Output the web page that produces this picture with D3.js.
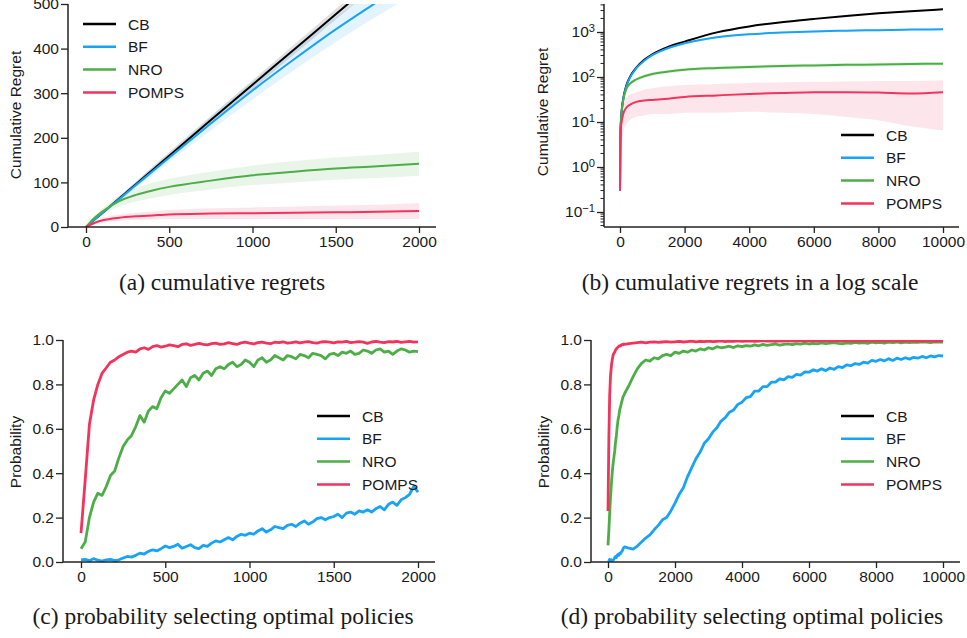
<!DOCTYPE html>
<html>
<head>
<meta charset="utf-8">
<script src="https://cdn.jsdelivr.net/npm/d3@7"></script>
<style>
  body { margin: 0; background: #fff; }
  text { font-family: "Liberation Sans", Arial, sans-serif; fill: #1a1a1a; }
  .caption { font-family: "Liberation Serif", "Times New Roman", serif; }
</style>
</head>
<body>
<svg id="fig" width="967" height="638"></svg>
<script>
// ---- data ----
const series = ["CB", "BF", "NRO", "POMPS"];
const colors = ["#000000", "#17a3f6", "#4cae46", "#f2335c"];

// (a) cumulative regret, mean and +/- band
const xA = [0, 50, 100, 200, 300, 400, 500, 750, 1000, 1250, 1500, 1750, 2000];
const cbA = [0, 16, 32, 64, 96, 128, 160, 240, 319, 398, 477, 556, 635];
const cbA_sd = [0, 2, 3, 5, 6, 7, 8, 9, 10, 11, 12, 13, 14];
const bfA = [0, 16, 32, 63, 94, 125, 156, 232, 306, 376, 443, 505, 565];
const bfA_sd = [0, 2, 3, 5, 7, 9, 10, 15, 20, 24, 28, 32, 36];
const nroA = [0, 20, 35, 58, 72, 82, 90, 104, 116, 124, 131, 136, 142];
const nroA_sd = [0, 4, 7, 12, 15, 17, 18, 20, 22, 24, 25, 26, 27];
const pompsA = [0, 9, 15, 21, 24, 26, 28, 30, 31, 32, 33, 34, 36];
const pompsA_sd = [0, 3, 5, 7, 8, 9, 10, 12, 13, 14, 15, 16, 18];

// (b) cumulative regret, log scale
const xB = [0, 10, 25, 50, 100, 200, 300, 500, 750, 1000, 1500, 2000, 3000, 4000, 5000, 6000, 7000, 8000, 9000, 10000];
const cbB = [0.3, 4, 9, 17, 33, 66, 98, 160, 240, 320, 470, 610, 980, 1330, 1650, 1950, 2280, 2600, 2900, 3200];
const bfB = [0.3, 4, 9, 17, 32, 63, 94, 155, 230, 305, 440, 560, 760, 890, 970, 1030, 1070, 1100, 1130, 1150];
const nroB = [0.3, 4, 9, 16, 30, 55, 70, 88, 104, 116, 132, 145, 158, 167, 175, 181, 186, 190, 194, 198];
const pompsB = [0.3, 3.5, 7, 10, 15, 21, 24, 28, 30, 31, 33, 36, 39, 42, 44, 46, 46, 45, 43, 46];
const pompsB_lo = [0.05, 0.5, 1.5, 3, 6, 9, 11, 13, 14, 15, 15, 16, 16, 17, 16, 15, 13, 11, 8, 6.5];
const pompsB_hi = [0.4, 8, 15, 20, 25, 35, 40, 45, 52, 56, 62, 66, 70, 74, 76, 78, 79, 81, 82, 85];

// (c) probability of selecting optimal policy, T = 2000 (every 25 steps)
const xC = d3.range(0, 2001, 25);
const pompsC = [0.13,0.37,0.62,0.73,0.80,0.85,0.875,0.90,0.91,0.925,
  0.935,0.945,0.95,0.945,0.96,0.965,0.958,0.97,0.975,0.968,
  0.972,0.978,0.975,0.97,0.98,0.983,0.976,0.98,0.985,0.98,
  0.978,0.984,0.986,0.98,0.983,0.988,0.984,0.98,0.987,0.99,
  0.986,0.983,0.988,0.99,0.986,0.984,0.99,0.988,0.992,0.986,
  0.988,0.992,0.987,0.99,0.993,0.988,0.986,0.991,0.993,0.99,
  0.987,0.992,0.99,0.994,0.988,0.99,0.993,0.99,0.985,0.991,
  0.994,0.99,0.988,0.993,0.991,0.994,0.989,0.992,0.994,0.99,
  0.992];
const nroC = [0.06,0.09,0.20,0.27,0.31,0.30,0.34,0.39,0.41,0.47,
  0.52,0.55,0.57,0.61,0.66,0.63,0.68,0.70,0.69,0.74,
  0.77,0.76,0.78,0.80,0.82,0.79,0.83,0.84,0.82,0.85,
  0.86,0.84,0.87,0.88,0.87,0.89,0.90,0.88,0.89,0.91,
  0.90,0.88,0.91,0.92,0.90,0.91,0.93,0.92,0.91,0.93,
  0.925,0.915,0.935,0.93,0.92,0.94,0.935,0.93,0.915,0.935,
  0.94,0.93,0.945,0.94,0.95,0.935,0.94,0.955,0.95,0.94,
  0.955,0.96,0.945,0.95,0.935,0.95,0.96,0.955,0.945,0.95,
  0.948];
const bfC = [0.01,0.012,0.006,0.015,0.008,0.004,0.01,0.012,0.006,0.01,
  0.018,0.025,0.022,0.03,0.04,0.036,0.048,0.055,0.05,0.06,
  0.072,0.065,0.07,0.08,0.062,0.07,0.078,0.065,0.06,0.075,
  0.07,0.085,0.095,0.09,0.10,0.11,0.10,0.115,0.125,0.12,
  0.13,0.125,0.14,0.15,0.135,0.145,0.16,0.155,0.15,0.165,
  0.17,0.16,0.175,0.185,0.17,0.18,0.195,0.20,0.19,0.20,
  0.205,0.215,0.20,0.22,0.225,0.215,0.23,0.225,0.235,0.225,
  0.24,0.25,0.235,0.26,0.27,0.255,0.28,0.29,0.305,0.34,
  0.315];

// (d) probability of selecting optimal policy, T = 10000
const xD = d3.range(0, 500, 25).concat(d3.range(500, 10001, 125));
const pompsD = [0.23,0.55,0.75,0.84,0.88,0.91,0.93,0.94,0.945,0.955,
  0.96,0.965,0.968,0.972,0.975,0.973,0.978,0.98,0.978,0.982,
  0.98,0.984,0.986,0.988,0.99,0.987,0.99,0.992,0.989,0.991,
  0.993,0.99,0.992,0.994,0.991,0.993,0.995,0.992,0.994,0.993,
  0.995,0.993,0.994,0.996,0.993,0.995,0.994,0.996,0.994,0.995,
  0.996,0.994,0.995,0.997,0.995,0.996,0.994,0.996,0.995,0.997,
  0.995,0.996,0.997,0.995,0.996,0.997,0.995,0.996,0.997,0.995,
  0.996,0.997,0.995,0.997,0.996,0.995,0.997,0.996,0.997,0.995,
  0.997,0.996,0.995,0.997,0.996,0.997,0.995,0.996,0.997,0.996,
  0.995,0.997,0.996,0.997,0.995,0.996,0.996];
const nroD = [0.075,0.14,0.22,0.29,0.35,0.40,0.44,0.47,0.50,0.54,
  0.57,0.61,0.64,0.66,0.685,0.70,0.715,0.73,0.745,0.75,
  0.76,0.795,0.835,0.87,0.895,0.91,0.905,0.92,0.915,0.93,
  0.935,0.93,0.945,0.94,0.95,0.945,0.955,0.95,0.96,0.955,
  0.965,0.96,0.97,0.965,0.968,0.972,0.966,0.974,0.97,0.975,
  0.972,0.978,0.974,0.98,0.976,0.979,0.982,0.977,0.98,0.983,
  0.979,0.984,0.981,0.986,0.982,0.985,0.983,0.987,0.984,0.986,
  0.988,0.985,0.983,0.987,0.985,0.989,0.986,0.988,0.985,0.99,
  0.987,0.989,0.986,0.99,0.988,0.991,0.987,0.99,0.988,0.991,
  0.989,0.992,0.99,0.988,0.992,0.99,0.991];
const bfD = [0.01,0.008,0.012,0.006,0.01,0.005,0.008,0.012,0.02,0.025,
  0.02,0.03,0.035,0.03,0.04,0.038,0.045,0.05,0.06,0.065,
  0.068,0.062,0.058,0.072,0.09,0.108,0.122,0.145,0.165,0.19,
  0.2,0.23,0.265,0.305,0.335,0.385,0.425,0.465,0.495,0.535,
  0.555,0.585,0.605,0.635,0.65,0.675,0.685,0.71,0.72,0.74,
  0.745,0.77,0.77,0.79,0.79,0.81,0.81,0.825,0.82,0.835,
  0.832,0.845,0.842,0.856,0.855,0.866,0.86,0.87,0.862,0.874,
  0.868,0.88,0.876,0.888,0.884,0.894,0.89,0.9,0.896,0.908,
  0.904,0.912,0.906,0.916,0.908,0.918,0.912,0.92,0.914,0.922,
  0.918,0.926,0.92,0.928,0.924,0.93,0.928];

const captions = ["(a) cumulative regrets", "(b) cumulative regrets in a log scale",
  "(c) probability selecting optimal policies", "(d) probability selecting optimal policies"];

// ---- layout ----
const svg = d3.select("#fig");
const ink = "#222";
const fs = 15.5;

function panel(o) {
  const g = svg.append("g");
  const x = d3.scaleLinear().domain(o.xdom).range(o.xr);
  const y = o.log ? d3.scaleLog().domain(o.ydom).range([o.bottom, o.top])
                  : d3.scaleLinear().domain(o.ydom).range([o.bottom, o.top]);
  const id = "clip" + o.name;
  svg.append("clipPath").attr("id", id).append("rect")
    .attr("x", o.left).attr("y", o.top).attr("width", o.right - o.left).attr("height", o.bottom - o.top);
  const plot = g.append("g").attr("clip-path", `url(#${id})`);

  // bands
  (o.bands || []).forEach(b => {
    const area = d3.area().curve(d3.curveMonotoneX)
      .x((d, i) => x(b.x[i])).y0((d, i) => y(b.lo[i])).y1((d, i) => y(b.hi[i]));
    plot.append("path").datum(b.lo).attr("d", area)
      .attr("fill", colors[b.k]).attr("fill-opacity", 0.12);
  });
  // lines
  o.lines.forEach(l => {
    const line = d3.line().curve(o.curve)
      .x((d, i) => x(l.x[i])).y(d => y(d));
    plot.append("path").datum(l.y).attr("d", line)
      .attr("fill", "none").attr("stroke", colors[l.k]).attr("stroke-width", o.lw)
      .attr("stroke-linejoin", "round");
  });

  // axes
  const xa = g.append("g").attr("transform", `translate(0,${o.bottom})`)
    .call(d3.axisBottom(x).tickValues(o.xticks).tickSize(6).tickPadding(3).tickFormat(d3.format("d")));
  xa.select(".domain").remove();
  const yAxis = d3.axisLeft(y).tickValues(o.yticks).tickSize(7).tickPadding(2);
  if (o.log) yAxis.tickFormat(() => "");
  else yAxis.tickFormat(o.yfmt);
  const ya = g.append("g").attr("transform", `translate(${o.left},0)`).call(yAxis);
  ya.select(".domain").remove();
  [xa, ya].forEach(a => {
    a.selectAll("line").attr("stroke", ink).attr("stroke-width", 1.3);
    a.selectAll("text").attr("font-size", fs).attr("fill", ink)
      .attr("font-family", "'Liberation Sans', Arial, sans-serif");
  });
  if (o.log) {
    // superscript labels and minor ticks
    ya.selectAll(".tick text").each(function (d) {
      const t = d3.select(this);
      const e = Math.round(Math.log10(d));
      t.append("tspan").text("10");
      t.append("tspan").attr("dy", "-0.5em").attr("font-size", fs * 0.72)
        .text(e < 0 ? "\u2212" + (-e) : e);
    });
    const minors = [];
    for (let e = -2; e <= 3; e++) for (let m = 2; m <= 9; m++) {
      const v = m * Math.pow(10, e);
      if (v > o.ydom[0] && v < o.ydom[1]) minors.push(v);
    }
    g.selectAll(".minor").data(minors).join("line")
      .attr("x1", o.left - 3.5).attr("x2", o.left)
      .attr("y1", d => y(d)).attr("y2", d => y(d))
      .attr("stroke", ink).attr("stroke-width", 1);
  }
  // spines
  g.append("line").attr("x1", o.left).attr("x2", o.left).attr("y1", o.top).attr("y2", o.bottom)
    .attr("stroke", ink).attr("stroke-width", 1.5);
  g.append("line").attr("x1", o.left).attr("x2", o.right).attr("y1", o.bottom).attr("y2", o.bottom)
    .attr("stroke", ink).attr("stroke-width", 1.5);

  // y label
  g.append("text").attr("transform", `translate(${o.ylx},${o.yly}) rotate(-90)`)
    .attr("text-anchor", "middle").attr("font-size", fs).attr("fill", ink).text(o.ylabel);

  // legend
  const lg = g.append("g").attr("transform", `translate(${o.lgx},${o.lgy})`);
  series.forEach((s, i) => {
    const r = lg.append("g").attr("transform", `translate(0,${i * 22.8})`);
    r.append("line").attr("x1", 0).attr("x2", 33).attr("stroke", colors[i]).attr("stroke-width", 2.5);
    r.append("text").attr("x", 45).attr("dy", "0.36em").attr("font-size", fs).attr("fill", ink).text(s);
  });

  // caption
  svg.append("text").attr("class", "caption").attr("x", o.capx).attr("y", o.capy)
    .attr("text-anchor", "middle").attr("font-size", 23.5).attr("fill", "#111").text(o.caption);
}

// (a)
panel({
  name: "a", xdom: [0, 2000], xr: [86, 419], left: 68, right: 436, top: 4, bottom: 227,
  ydom: [0, 500], yticks: [0, 100, 200, 300, 400, 500], yfmt: d3.format("d"),
  xticks: [0, 500, 1000, 1500, 2000], curve: d3.curveMonotoneX, lw: 2,
  bands: [
    { k: 0, x: xA, lo: cbA.map((v, i) => v - cbA_sd[i]), hi: cbA.map((v, i) => v + cbA_sd[i]) },
    { k: 1, x: xA, lo: bfA.map((v, i) => v - bfA_sd[i]), hi: bfA.map((v, i) => v + bfA_sd[i]) },
    { k: 2, x: xA, lo: nroA.map((v, i) => v - nroA_sd[i]), hi: nroA.map((v, i) => v + nroA_sd[i]) },
    { k: 3, x: xA, lo: pompsA.map((v, i) => v - pompsA_sd[i]), hi: pompsA.map((v, i) => v + pompsA_sd[i]) }
  ],
  lines: [{ k: 0, x: xA, y: cbA }, { k: 1, x: xA, y: bfA }, { k: 2, x: xA, y: nroA }, { k: 3, x: xA, y: pompsA }],
  ylabel: "Cumulative Regret", ylx: 21, yly: 115,
  lgx: 83, lgy: 24, caption: captions[0], capx: 222, capy: 290
});

// (b)
panel({
  name: "b", xdom: [0, 10000], xr: [620, 943], left: 604, right: 959, top: 4, bottom: 227,
  log: true, ydom: [Math.pow(10, -1.333), Math.pow(10, 3.622)], yticks: [0.1, 1, 10, 100, 1000],
  xticks: [0, 2000, 4000, 6000, 8000, 10000], curve: d3.curveMonotoneX, lw: 2,
  bands: [
    { k: 0, x: xB, lo: cbB.map(v => v * 0.96), hi: cbB.map(v => v * 1.04) },
    { k: 1, x: xB, lo: bfB.map(v => v * 0.95), hi: bfB.map(v => v * 1.05) },
    { k: 2, x: xB, lo: nroB.map(v => v * 0.9), hi: nroB.map(v => v * 1.1) },
    { k: 3, x: xB, lo: pompsB_lo, hi: pompsB_hi }
  ],
  lines: [{ k: 0, x: xB, y: cbB }, { k: 1, x: xB, y: bfB }, { k: 2, x: xB, y: nroB }, { k: 3, x: xB, y: pompsB }],
  ylabel: "Cumulative Regret", ylx: 548, yly: 112,
  lgx: 841, lgy: 135, caption: captions[1], capx: 750, capy: 290
});

// (c)
panel({
  name: "c", xdom: [0, 2000], xr: [81, 418], left: 63, right: 435, top: 340, bottom: 562,
  ydom: [0, 1], yticks: [0, 0.2, 0.4, 0.6, 0.8, 1.0], yfmt: d3.format(".1f"),
  xticks: [0, 500, 1000, 1500, 2000], curve: d3.curveLinear, lw: 2.8,
  lines: [{ k: 1, x: xC, y: bfC }, { k: 2, x: xC, y: nroC }, { k: 3, x: xC, y: pompsC }],
  ylabel: "Probability", ylx: 21, yly: 452,
  lgx: 317, lgy: 416, caption: captions[2], capx: 223, capy: 624
});

// (d)
panel({
  name: "d", xdom: [0, 10000], xr: [608, 943], left: 591, right: 960, top: 340, bottom: 562,
  ydom: [0, 1], yticks: [0, 0.2, 0.4, 0.6, 0.8, 1.0], yfmt: d3.format(".1f"),
  xticks: [0, 2000, 4000, 6000, 8000, 10000], curve: d3.curveLinear, lw: 2.8,
  lines: [{ k: 1, x: xD, y: bfD }, { k: 2, x: xD, y: nroD }, { k: 3, x: xD, y: pompsD }],
  ylabel: "Probability", ylx: 549, yly: 452,
  lgx: 841, lgy: 416, caption: captions[3], capx: 752, capy: 624
});
</script>
</body>
</html>
